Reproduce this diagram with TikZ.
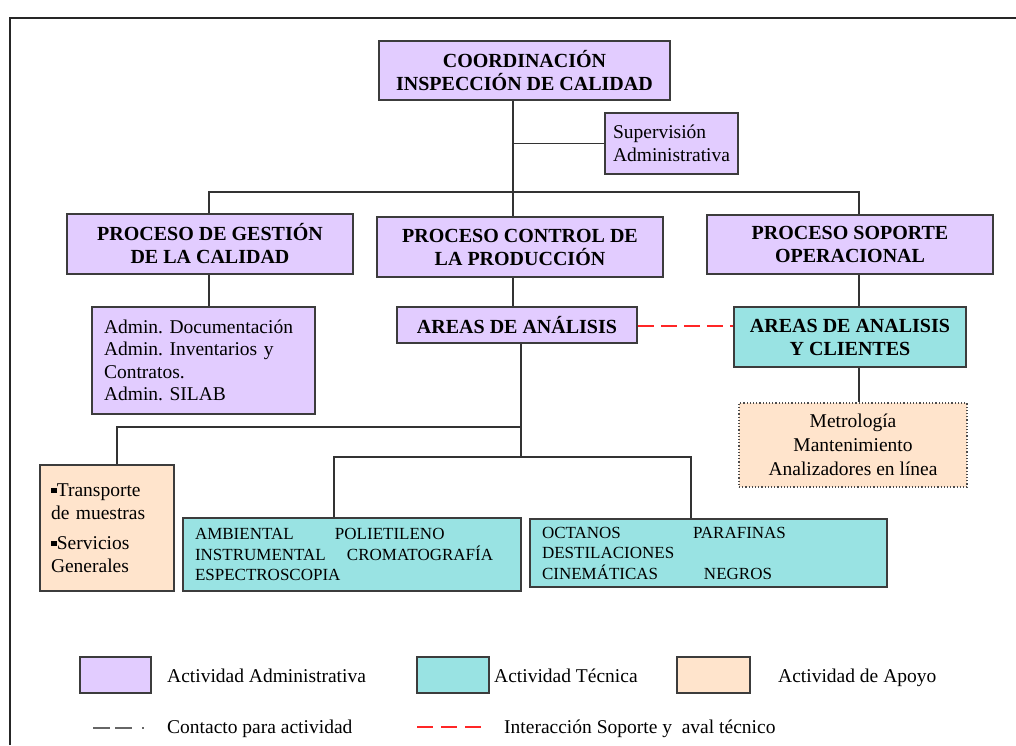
\documentclass[tikz,border=0pt]{standalone}
\usepackage{fontspec}
\setmainfont{Liberation Serif}
\usetikzlibrary{positioning,calc}
\definecolor{admin}{RGB}{226,204,255}
\definecolor{tecnica}{RGB}{153,227,227}
\definecolor{apoyo}{RGB}{255,228,204}
\definecolor{borde}{RGB}{60,60,60}
\newcommand{\cuad}{\rule[0.35ex]{0.3em}{0.3em}}
\frenchspacing
\tikzset{
  box/.style={
    draw=borde, line width=1.8pt, align=center, inner sep=0pt
  },
  boxadm/.style={box, fill=admin},
  boxtec/.style={box, fill=tecnica},
  boxapo/.style={box, fill=apoyo},
  sz/.style 2 args={minimum width=#1pt, minimum height=#2pt},
  head/.style={font=\fontsize{20}{23}\selectfont\bfseries},
  txt/.style={font=\fontsize{19.5}{22.5}\selectfont},
  caps/.style={font=\fontsize{17}{20.5}\selectfont},
  conn/.style={line width=1.9pt, draw=black!80},
  redline/.style={line width=2pt, draw=red!85, dash pattern=on 16pt off 7pt},
  contact/.style={line width=2.2pt, draw=black!60, dash pattern=on 17pt off 5pt on 17pt off 10pt on 2pt off 30pt}
}

\begin{document}
\begin{tikzpicture}[x=1pt,y=-1pt]
\useasboundingbox (0,0) rectangle (1016,745);
\draw[line width=2pt, black!85] (10,745) -- (10,18) -- (1016,18);

\node[boxadm, head, sz={291}{59}] (coord) at (524.5,70.5) {COORDINACIÓN\\INSPECCIÓN DE CALIDAD};
\node[boxadm, txt, sz={133}{61}, align=left] (sup) at (671.5,143.5) {Supervisión\\Administrativa};

\node[boxadm, head, sz={286}{60}] (gest) at (210,244) {PROCESO DE GESTIÓN\\DE LA CALIDAD};
\node[boxadm, head, sz={286}{60}] (ctrl) at (520,247) {PROCESO CONTROL DE\\LA PRODUCCIÓN};
\node[boxadm, head, sz={286}{59}] (sop) at (850,244.5) {PROCESO SOPORTE\\OPERACIONAL};

\node[boxadm, txt, sz={223}{107}, align=left, text width=199pt] (adm) at (203.5,360.5)
  {Admin. Documentación\\Admin. Inventarios y\\Contratos.\\Admin. SILAB};
\node[boxadm, head, sz={240}{36}] (areas) at (517,325) {AREAS DE ANÁLISIS};
\node[boxtec, head, sz={232}{60}] (areas2) at (850,337) {AREAS DE ANALISIS\\Y CLIENTES};
\node[boxapo, txt, sz={228}{84}, draw=black!70, line width=1.2pt, dotted,
  font=\fontsize{19.5}{24}\selectfont] (metro) at (853,445)
  {Metrología\\Mantenimiento\\Analizadores en línea};

\node[boxapo, txt, sz={134}{126}, align=left, text width=112pt] (trans) at (107,528)
  {\cuad Transporte\\de muestras\\[8pt]\cuad Servicios\\Generales};
\node[boxtec, caps, sz={338}{73}, align=left, text width=314pt] (amb) at (352,554.5)
  {\makebox[140pt][l]{AMBIENTAL}POLIETILENO\\\makebox[152pt][l]{INSTRUMENTAL}CROMATOGRAFÍA\\ESPECTROSCOPIA};
\node[boxtec, caps, sz={357}{68}, align=left, text width=333pt] (oct) at (708.5,553)
  {\makebox[151pt][l]{OCTANOS}PARAFINAS\\DESTILACIONES\\\makebox[162pt][l]{CINEMÁTICAS}NEGROS};

\coordinate (j) at (513,192);
\coordinate (jl) at (209,192);
\coordinate (jr) at (859,192);
\draw[conn] (coord.south -| j) -- (j);
\draw[conn] (j |- sup.west) -- (sup.west);
\draw[conn] (jl |- gest.north) -- (jl) -- (jr) -- (jr |- sop.north);
\draw[conn] (j) -- (j |- ctrl.north);
\draw[conn] (gest.south -| jl) -- (jl |- adm.north);
\draw[conn] (ctrl.south -| j) -- (j |- areas.north);
\draw[conn] (sop.south -| jr) -- (jr |- areas2.north);
\draw[conn] (areas2.south -| jr) -- (jr |- metro.north);
\draw[redline] ([yshift=-1pt]areas.east) -- ([yshift=-1pt]areas.east -| areas2.west);

\coordinate (k) at (521,457);
\coordinate (kt) at (521,427);
\coordinate (kl) at (117,427);
\coordinate (ka) at (334,457);
\coordinate (ko) at (691,457);
\draw[conn] (areas.south -| k) -- (k);
\draw[conn] (kt) -- (kl) -- (kl |- trans.north);
\draw[conn] (ka |- amb.north) -- (ka) -- (ko) -- (ko |- oct.north);

\node[boxadm, sz={71}{36}] (ladm) at (115.5,675) {};
\node[txt, inner sep=0pt, anchor=base west] (tadm) at (167,682) {Actividad Administrativa};
\node[boxtec, sz={72}{36}] (ltec) at (453,675) {};
\node[txt, inner sep=0pt, anchor=base west] (ttec) at (494,682) {Actividad Técnica};
\node[boxapo, sz={73}{36}] (lapo) at (713.5,675) {};
\node[txt, inner sep=0pt, anchor=base west] (tapo) at (778,682) {Actividad de Apoyo};

\coordinate (c1) at (93,728);
\coordinate (c2) at (145,728);
\draw[contact] (c1) -- (c2);
\node[txt, inner sep=0pt, anchor=base west] (tcon) at (167,733) {Contacto para actividad};
\coordinate (r1) at (417,727);
\coordinate (r2) at (481,727);
\draw[redline, dash pattern=on 16pt off 8pt] (r1) -- (r2);
\node[txt, inner sep=0pt, anchor=base west] (tint) at (504,733) {Interacción Soporte y\ \ aval técnico};
\end{tikzpicture}
\end{document}
